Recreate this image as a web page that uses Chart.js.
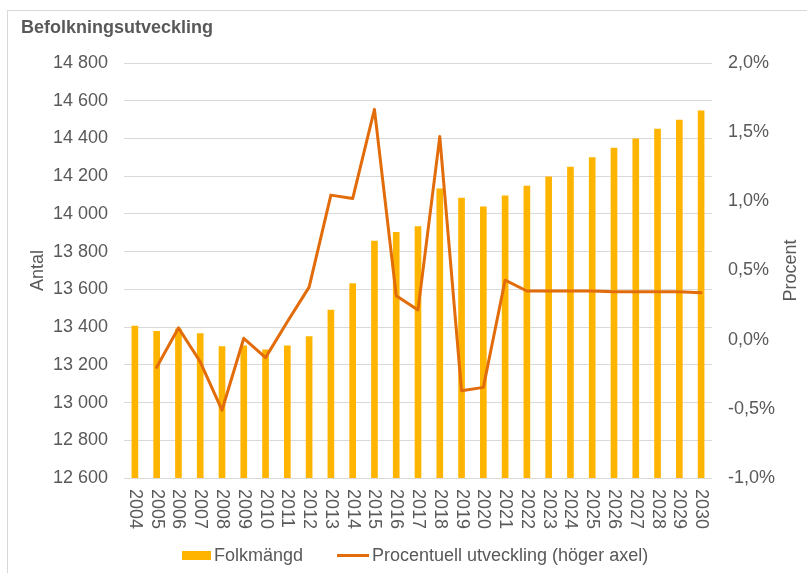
<!DOCTYPE html>
<html lang="sv">
<head>
<meta charset="UTF-8">
<title>Befolkningsutveckling</title>
<script src="https://cdn.jsdelivr.net/npm/chart.js"></script>
<style>
    body { margin: 0; background: #fff; overflow: hidden; font-family: "Liberation Sans", Arial, sans-serif; color: #595959; }
    #wrap { position: relative; width: 807px; height: 573px; }
    #frame { position: absolute; left: 7px; top: 10px; width: 900px; height: 700px; border: 1px solid #d9d9d9; }
    #title { position: absolute; left: 21px; top: 18px; font-size: 18px; line-height: 18px; font-weight: bold; white-space: nowrap; }
    canvas { position: absolute; left: 0; top: 0; }
    .lg { position: absolute; }
    .lgtext { position: absolute; top: 546px; font-size: 18px; line-height: 18px; white-space: nowrap; }
</style>
</head>
<body>
<div id="wrap">
    <div id="frame"></div>
    <canvas id="chart" width="807" height="573"></canvas>
    <div id="title">Befolkningsutveckling</div>
    <div class="lg" style="left:182px; top:551px; width:29px; height:9px; background:#FFB400;"></div>
    <div class="lgtext" style="left:214px;">Folkmängd</div>
    <div class="lg" style="left:337px; top:554px; width:32px; height:3px; background:#E26B0A;"></div>
    <div class="lgtext" style="left:372px;">Procentuell utveckling (höger axel)</div>
</div>
<script>
    const years = ['2004', '2005', '2006', '2007', '2008', '2009', '2010', '2011', '2012', '2013',
        '2014', '2015', '2016', '2017', '2018', '2019', '2020', '2021', '2022', '2023',
        '2024', '2025', '2026', '2027', '2028', '2029', '2030'];
    const folkmangd = [13405, 13378, 13390, 13365, 13297, 13300, 13279, 13300, 13350, 13490,
        13631, 13856, 13902, 13933, 14133, 14084, 14038, 14096, 14147, 14197,
        14248, 14298, 14349, 14398, 14450, 14498, 14547];
    const forandring = [null, -0.20, 0.085, -0.16, -0.51, 0.01, -0.13, 0.13, 0.38, 1.045,
        1.02, 1.665, 0.318, 0.215, 1.468, -0.37, -0.345, 0.43, 0.352, 0.352,
        0.352, 0.352, 0.346, 0.346, 0.346, 0.346, 0.339];

    const grey = '#595959';
    const tickFont = { family: '"Liberation Sans", Arial, sans-serif', size: 18 };

    // x labels read top to bottom, axis titles bottom to top
    const extraText = {
        id: 'extraText',
        afterDraw(chart) {
            const ctx = chart.ctx;
            const xs = chart.scales.x;
            const area = chart.chartArea;
            ctx.save();
            ctx.font = '18px "Liberation Sans", Arial, sans-serif';
            ctx.fillStyle = grey;
            years.forEach((y, i) => {
                ctx.save();
                ctx.translate(xs.getPixelForTick(i), xs.top + 11);
                ctx.rotate(Math.PI / 2);
                ctx.textAlign = 'left';
                ctx.textBaseline = 'middle';
                ctx.fillText(y, 0, 0);
                ctx.restore();
            });
            const midY = (area.top + area.bottom) / 2;
            [['Antal', 38.5], ['Procent', 791]].forEach(([t, x]) => {
                ctx.save();
                ctx.translate(x, midY);
                ctx.rotate(-Math.PI / 2);
                ctx.textAlign = 'center';
                ctx.textBaseline = 'middle';
                ctx.fillText(t, 0, 0);
                ctx.restore();
            });
            ctx.restore();
        }
    };

    new Chart(document.getElementById('chart'), {
        data: {
            labels: years,
            datasets: [
                {
                    type: 'line',
                    label: 'Procentuell utveckling (höger axel)',
                    data: forandring,
                    yAxisID: 'y1',
                    borderColor: '#E26B0A',
                    borderWidth: 3,
                    borderJoinStyle: 'round',
                    borderCapStyle: 'round',
                    pointRadius: 0,
                    tension: 0,
                    order: 0
                },
                {
                    type: 'bar',
                    label: 'Folkmängd',
                    data: folkmangd,
                    yAxisID: 'y',
                    backgroundColor: '#FFB400',
                    barThickness: 6,
                    order: 1
                }
            ]
        },
        options: {
            responsive: false,
            animation: false,
            layout: { padding: { top: 63, bottom: 0, left: 0, right: 0 } },
            plugins: {
                legend: { display: false },
                title: { display: false },
                tooltip: { enabled: false }
            },
            scales: {
                x: {
                    grid: { display: false },
                    border: { display: false },
                    ticks: { display: false },
                    afterFit: s => { s.height = 95; }
                },
                y: {
                    position: 'left',
                    min: 12600,
                    max: 14800,
                    grid: { color: '#d9d9d9', lineWidth: 1, drawTicks: false },
                    border: { display: false },
                    ticks: {
                        stepSize: 200,
                        padding: 16,
                        color: grey,
                        font: tickFont,
                        callback: v => String(v).replace(/\B(?=(\d{3})+(?!\d))/g, ' ')
                    },
                    afterFit: s => { s.width = 124; }
                },
                y1: {
                    position: 'right',
                    min: -1,
                    max: 2,
                    grid: { display: false, drawTicks: false },
                    border: { display: false },
                    ticks: {
                        stepSize: 0.5,
                        padding: 16,
                        color: grey,
                        font: tickFont,
                        callback: v => v.toFixed(1).replace('.', ',') + '%'
                    },
                    afterFit: s => { s.width = 95; }
                }
            }
        },
        plugins: [extraText]
    });
</script>
</body>
</html>
